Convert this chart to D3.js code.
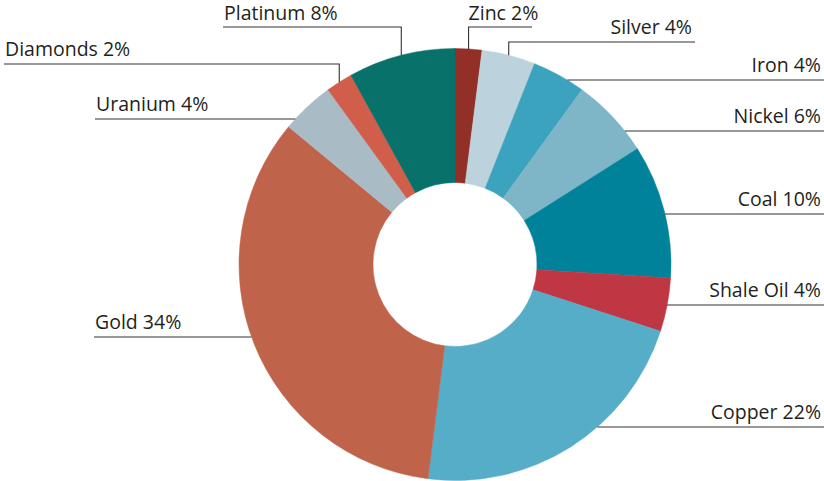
<!DOCTYPE html>
<meta charset="utf-8">
<html>
<head>
    <style>
        body { margin: 0; background: #fff; }
        svg { display: block; }
        svg text {
            font-family: "Open Sans", sans-serif;
            font-size: 19.5px;
            fill: #231f20;
        }
    </style>
    <script src="https://d3js.org/d3.v7.min.js"></script>
</head>
<body>
    <div id="chart-container"></div>
    <script>
        // data, clockwise from 12 o'clock
        const minerals = ["Zinc", "Silver", "Iron", "Nickel", "Coal", "Shale Oil", "Copper", "Gold", "Uranium", "Diamonds", "Platinum"];
        const shares = [2, 4, 4, 6, 10, 4, 22, 34, 4, 2, 8];
        const colors = ["#922f26", "#bcd3dd", "#3ba3bd", "#7eb6c8", "#00839a", "#c03744", "#56adc8", "#c0634b", "#a9bcc6", "#d15e4a", "#08716a"];

        // label layout: leader line height, far end of the line, and whether it drops vertically from the slice middle
        const labelY = [27, 42, 80, 131, 214, 305, 427, 337, 119, 64, 27];
        const labelEnd = [532, 695, 824, 824, 824, 824, 824, 94, 95, 4, 223];
        const labelDrop = [true, true, false, false, false, false, false, false, false, true, true];

        const width = 824, height = 481;
        const cx = 455, cy = 264.5;
        const innerRadius = 82, outerRadius = 216;

        const data = minerals.map((m, i) => ({ name: m, value: shares[i], color: colors[i], i: i }));

        const svg = d3.select("#chart-container")
            .append("svg")
            .attr("width", width)
            .attr("height", height);

        const g = svg.append("g")
            .attr("transform", "translate(" + cx + "," + cy + ")");

        const pie = d3.pie()
            .sort(null)
            .value(d => d.value);

        const arc = d3.arc()
            .innerRadius(innerRadius)
            .outerRadius(outerRadius);

        const arcs = pie(data);

        g.selectAll("path")
            .data(arcs)
            .enter().append("path")
            .attr("d", arc)
            .attr("fill", d => d.data.color)
            .attr("stroke", d => d.data.color)
            .attr("stroke-width", 0.5);

        // leader lines + labels
        const leaders = g.append("g");
        arcs.forEach(function (d) {
            const i = d.data.i;
            const ly = labelY[i] - cy;
            const endX = labelEnd[i] - cx;
            const mid = (d.startAngle + d.endAngle) / 2;
            let pts, px;
            if (labelDrop[i]) {
                px = Math.sin(mid) * outerRadius;
                const py = -Math.cos(mid) * outerRadius;
                pts = [[endX, ly], [px, ly], [px, py]];
            } else {
                const side = endX > 0 ? 1 : -1;
                px = side * Math.sqrt(outerRadius * outerRadius - ly * ly);
                pts = [[px, ly], [endX, ly]];
            }
            leaders.append("path")
                .attr("d", d3.line()(pts))
                .attr("fill", "none")
                .attr("stroke", "#333")
                .attr("stroke-width", 1.1);

            let tx, anchor;
            if (labelDrop[i] && i === 0) {
                tx = px; anchor = "start";   // zinc label hangs past its short line
            } else if (endX > 0) {
                tx = endX - 3; anchor = "end";
            } else {
                tx = endX + 1; anchor = "start";
            }
            leaders.append("text")
                .attr("x", tx)
                .attr("y", ly - 8 + (labelY[i] < 30 ? 1 : 0))
                .attr("text-anchor", anchor)
                .text(d.data.name + " " + d.data.value + "%");
        });
    </script>
</body>
</html>
